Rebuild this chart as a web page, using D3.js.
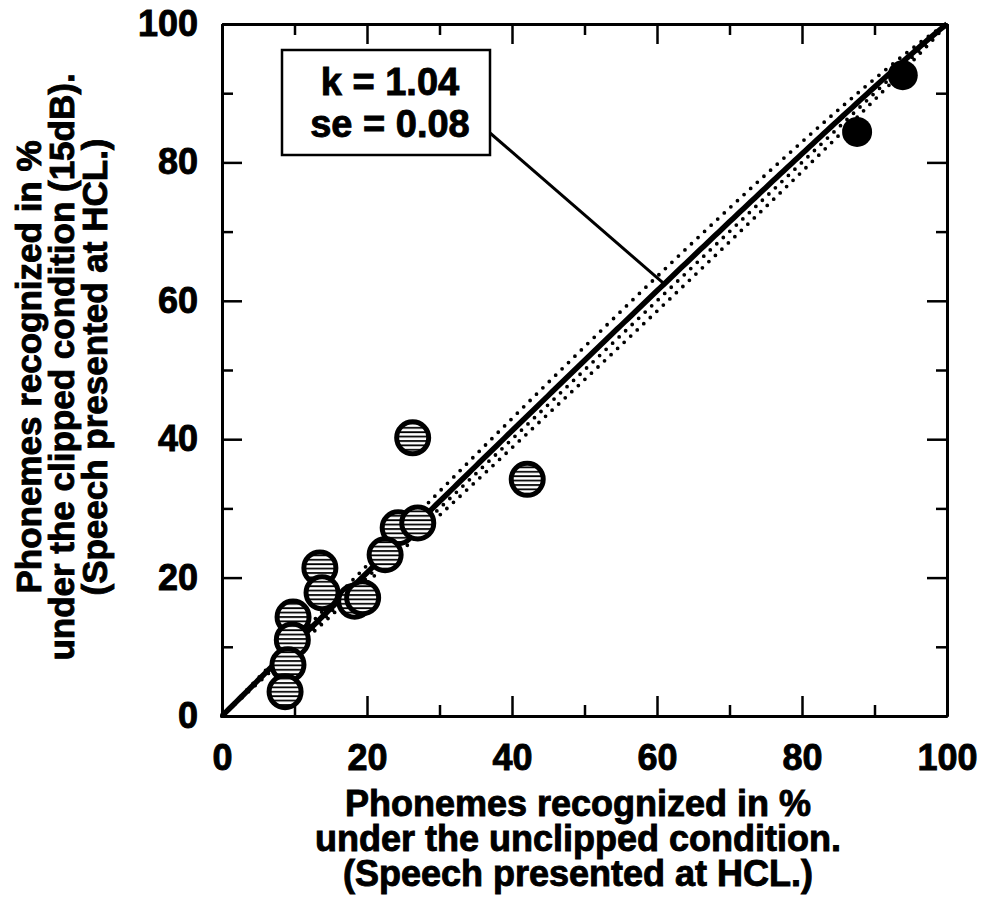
<!DOCTYPE html>
<html>
<head>
<meta charset="utf-8">
<script src="https://cdn.jsdelivr.net/npm/d3@7"></script>
<style>
  body { margin: 0; background: #fff; }
  text { font-family: "Liberation Sans", Arial, sans-serif; font-weight: bold; fill: #000; stroke: #000; stroke-width: 0.9px; }
</style>
</head>
<body>
<svg></svg>
<script>
var width = 982;
var height = 908;

// plot frame (pixels)
var plotLeft = 222, plotRight = 947, plotTop = 24, plotBottom = 716;

// data (percent)
var hatchedX = [24.3, 27.0, 22.5, 13.5, 13.8, 18.3, 19.4, 9.8, 9.7, 9.1, 8.7, 26.3, 42.1];
var hatchedY = [27.2, 27.9, 23.3, 21.4, 17.8, 16.6, 17.1, 14.3, 11.0, 7.4, 3.5, 40.2, 34.2];
var filledX = [87.6, 93.9];
var filledY = [84.4, 92.6];

// fitted exponent and band lines
var kFit = 1.04;
var kBands = [1.10, 1.00, 0.96];
var boxLines = ["k = 1.04", "se = 0.08"];

var majorTicks = [0, 20, 40, 60, 80, 100];
var minorTicks = [10, 30, 50, 70, 90];

var xTitle = ["Phonemes recognized in %", "under the unclipped condition.", "(Speech presented at HCL.)"];
var yTitle = ["Phonemes recognized in %", "under the clipped condition (15dB).", "(Speech presented at HCL.)"];

var xScale = d3.scaleLinear().domain([0, 100]).range([plotLeft, plotRight]);
var yScale = d3.scaleLinear().domain([0, 100]).range([plotBottom, plotTop]);

function model(k) {
	return function(x) { return 100 * (1 - Math.pow(1 - x / 100, k)); };
}

var svg = d3.select('svg')
		.attr('width', width)
		.attr('height', height);

svg.append('rect')
	.attr('width', width)
	.attr('height', height)
	.attr('fill', '#fff');

// striped fill for the open markers
var pat = svg.append('defs')
	.append('pattern')
		.attr('id', 'hatch')
		.attr('patternUnits', 'userSpaceOnUse')
		.attr('width', 8)
		.attr('height', 4.4);
pat.append('rect').attr('width', 8).attr('height', 4.4).attr('fill', '#fff');
pat.append('line')
	.attr('x1', 0).attr('x2', 8)
	.attr('y1', 1).attr('y2', 1)
	.attr('stroke', '#000')
	.attr('stroke-width', 1.8);

// axes: major and minor ticks on all four sides, pointing inward
function styleAxis(g) {
	g.select('.domain').attr('stroke-width', 3);
	g.selectAll('.tick line').attr('stroke-width', 2.5);
	g.selectAll('.tick text')
		.style('font-family', '"Liberation Sans", Arial, sans-serif')
		.style('font-weight', 'bold')
		.style('font-size', '36px');
}

function addAxis(axisFn, tx, ty, ticks, size, labels, pad) {
	var ax = axisFn(ty === null ? yScale : xScale)
		.tickValues(ticks)
		.tickSize(-size)
		.tickSizeOuter(0);
	if (labels) ax.tickPadding(pad);
	else ax.tickFormat('');
	svg.append('g')
		.attr('transform', "translate(" + (tx || 0) + "," + (ty || 0) + ")")
		.call(ax)
		.call(styleAxis);
}

addAxis(d3.axisBottom, 0, plotBottom, minorTicks, 11, false);
addAxis(d3.axisBottom, 0, plotBottom, majorTicks, 20, true, 28);
addAxis(d3.axisTop, 0, plotTop, minorTicks, 11, false);
addAxis(d3.axisTop, 0, plotTop, majorTicks, 20, false);
addAxis(d3.axisLeft, plotLeft, null, minorTicks, 11, false);
addAxis(d3.axisLeft, plotLeft, null, majorTicks, 20, true, 24);
addAxis(d3.axisRight, plotRight, null, minorTicks, 11, false);
addAxis(d3.axisRight, plotRight, null, majorTicks, 20, false);

// fitted curve and its dotted bands
var xs = d3.range(0, 100.01, 0.5);
var line = d3.line()
	.x(d => xScale(d[0]))
	.y(d => yScale(d[1]));

svg.selectAll('.band')
	.data(kBands)
	.enter()
	.append('path')
		.attr('class', 'band')
		.attr('fill', 'none')
		.attr('stroke', '#000')
		.attr('stroke-width', 3.8)
		.attr('stroke-linecap', 'round')
		.attr('stroke-dasharray', '0 9')
		.attr('d', k => line(xs.map(x => [x, model(k)(x)])));

svg.append('path')
	.attr('fill', 'none')
	.attr('stroke', '#000')
	.attr('stroke-width', 5.5)
	.attr('d', line(xs.map(x => [x, model(kFit)(x)])));

// markers
svg.selectAll('.open')
	.data(hatchedX)
	.enter()
	.append('circle')
		.attr('class', 'open')
		.attr('cx', d => xScale(d))
		.attr('cy', (d, i) => yScale(hatchedY[i]))
		.attr('r', 16)
		.attr('fill', 'url(#hatch)')
		.attr('stroke', '#000')
		.attr('stroke-width', 5);

svg.selectAll('.filled')
	.data(filledX)
	.enter()
	.append('circle')
		.attr('class', 'filled')
		.attr('cx', d => xScale(d))
		.attr('cy', (d, i) => yScale(filledY[i]))
		.attr('r', 15)
		.attr('fill', '#000');

// annotation box with leader line
var leadX = 61;
svg.append('line')
	.attr('x1', 490).attr('y1', 133)
	.attr('x2', xScale(leadX)).attr('y2', yScale(model(kFit)(leadX)))
	.attr('stroke', '#000')
	.attr('stroke-width', 3);

svg.append('rect')
	.attr('x', 282).attr('y', 50)
	.attr('width', 208).attr('height', 105)
	.attr('fill', '#fff')
	.attr('stroke', '#000')
	.attr('stroke-width', 2.5);

svg.selectAll('.boxtext')
	.data(boxLines)
	.enter()
	.append('text')
		.attr('class', 'boxtext')
		.attr('x', 390)
		.attr('y', (d, i) => 95 + i * 42)
		.style('font-size', '38px')
		.style('text-anchor', 'middle')
		.text(d => d);

// axis titles
svg.selectAll('.xtitle')
	.data(xTitle)
	.enter()
	.append('text')
		.attr('class', 'xtitle')
		.attr('x', 578)
		.attr('y', (d, i) => 816 + i * 35)
		.style('font-size', '36px')
		.style('text-anchor', 'middle')
		.text(d => d);

svg.selectAll('.ytitle')
	.data(yTitle)
	.enter()
	.append('text')
		.attr('class', 'ytitle')
		.attr('transform', "rotate(-90)")
		.attr('x', -367)
		.attr('y', (d, i) => 41 + i * 33)
		.style('font-size', '35px')
		.style('text-anchor', 'middle')
		.text(d => d);
</script>
</body>
</html>
